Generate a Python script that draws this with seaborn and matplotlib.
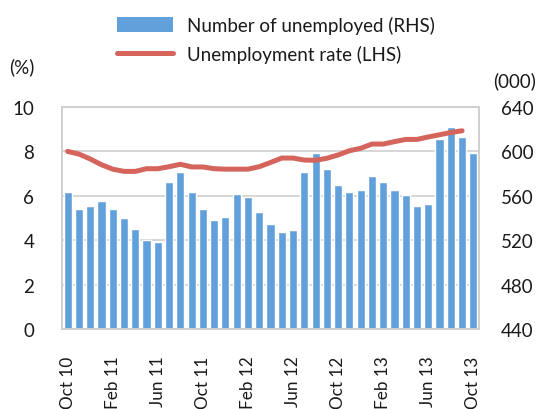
import numpy as np
import pandas as pd
import matplotlib
matplotlib.use("Agg")
import matplotlib.pyplot as plt
import seaborn as sns
from matplotlib.patches import Patch
from matplotlib.lines import Line2D

# Monthly series, Oct 2010 - Oct 2013
months = ["Oct 10", "Nov 10", "Dec 10", "Jan 11", "Feb 11", "Mar 11", "Apr 11", "May 11",
          "Jun 11", "Jul 11", "Aug 11", "Sep 11", "Oct 11", "Nov 11", "Dec 11", "Jan 12",
          "Feb 12", "Mar 12", "Apr 12", "May 12", "Jun 12", "Jul 12", "Aug 12", "Sep 12",
          "Oct 12", "Nov 12", "Dec 12", "Jan 13", "Feb 13", "Mar 13", "Apr 13", "May 13",
          "Jun 13", "Jul 13", "Aug 13", "Sep 13", "Oct 13"]

# Number of unemployed, thousands (right-hand scale)
unemployed = [563, 548, 551, 555, 548, 540, 530, 520, 518, 572, 581, 563, 548, 538, 541,
              562, 559, 545, 535, 527, 529, 581, 599, 584, 570, 563, 565, 578, 572, 565,
              561, 551, 553, 611, 622, 613, 599]

# Unemployment rate, % (left-hand scale); no reading yet for Oct 13
rate = [8.0, 7.88, 7.66, 7.4, 7.2, 7.1, 7.1, 7.22, 7.22, 7.31, 7.42, 7.3, 7.3, 7.22, 7.2,
        7.2, 7.2, 7.31, 7.5, 7.7, 7.7, 7.61, 7.6, 7.69, 7.84, 8.03, 8.14, 8.33, 8.33, 8.44,
        8.54, 8.54, 8.65, 8.75, 8.85, 8.93]

left_ticks = [0, 2, 4, 6, 8, 10]
right_ticks = [440, 480, 520, 560, 600, 640]

bar_color = "#62A0DC"
line_color = "#D4645C"
grid_color = "#CFCFCF"
text_color = "#1A1A1A"
fs = 13.5

sns.set_theme(style="white")
plt.rcParams["font.family"] = ["Lato", "DejaVu Sans"]
plt.rcParams["font.size"] = fs

fig = plt.figure(figsize=(5.36, 4.10), dpi=100)
ax = fig.add_axes([62 / 536, 1 - 330 / 410, (479 - 62) / 536, (330 - 108) / 410])

# Bars on the primary axes (thousands scale, shown on the right)
bars_df = pd.DataFrame({"month": months, "unemployed": unemployed})
sns.barplot(data=bars_df, x="month", y="unemployed", color=bar_color, saturation=1,
            width=0.72, ax=ax, zorder=2)
ax.set_xlim(-0.5, len(months) - 0.5)
ax.set_ylim(right_ticks[0], right_ticks[-1])
ax.set_yticks(right_ticks)
ax.yaxis.grid(True, color=grid_color, linewidth=1.2)
ax.set_axisbelow(True)
ax.set_xlabel("")
ax.set_ylabel("")

tick_idx = list(range(0, len(months), 4))
ax.set_xticks(tick_idx)
ax.set_xticklabels([months[i] for i in tick_idx], rotation=90, va="top", ha="center")
ax.tick_params(axis="x", length=0, pad=19, colors=text_color, labelsize=12.3)

# Line on a twin axes (percent scale, shown on the left)
ax2 = ax.twinx()
line_df = pd.DataFrame({"pos": np.arange(len(rate)), "rate": rate})
sns.lineplot(data=line_df, x="pos", y="rate", color=line_color, linewidth=3.6,
             solid_capstyle="round", ax=ax2)
ax2.set_ylim(left_ticks[0], left_ticks[-1])
ax2.set_yticks(left_ticks)
ax2.set_xlim(-0.5, len(months) - 0.5)
ax2.set_xlabel("")
ax2.set_ylabel("")
ax2.grid(False)

# Swap sides: percent on the left, thousands on the right
ax.yaxis.tick_right()
ax.tick_params(axis="y", length=0, pad=16, colors=text_color, labelsize=fs,
               left=False, labelleft=False, right=True, labelright=True)
ax2.yaxis.tick_left()
ax2.tick_params(axis="y", length=0, pad=20, colors=text_color, labelsize=fs,
                left=True, labelleft=True, right=False, labelright=False)

for a in (ax, ax2):
    for s in a.spines.values():
        s.set_color(grid_color)
        s.set_linewidth(1.2)

fig.text(22 / 536, 1 - 67 / 410, "(%)", ha="center", va="center", color=text_color, fontsize=fs)
fig.text(536 / 536, 1 - 81 / 410, "(000)", ha="right", va="center", color=text_color, fontsize=fs)

handles = [Patch(facecolor=bar_color, edgecolor="none"),
           Line2D([0], [0], color=line_color, linewidth=3.6, solid_capstyle="round")]
labels = ["Number of unemployed (RHS)", "Unemployment rate (LHS)"]
fig.legend(handles, labels, loc="upper left", bbox_to_anchor=(100 / 536, 1 - 0 / 410),
           frameon=False, fontsize=fs, handlelength=3.0, handleheight=0.9,
           handletextpad=0.75, labelspacing=0.6, labelcolor=text_color)

fig.savefig("out.png", dpi=100)
